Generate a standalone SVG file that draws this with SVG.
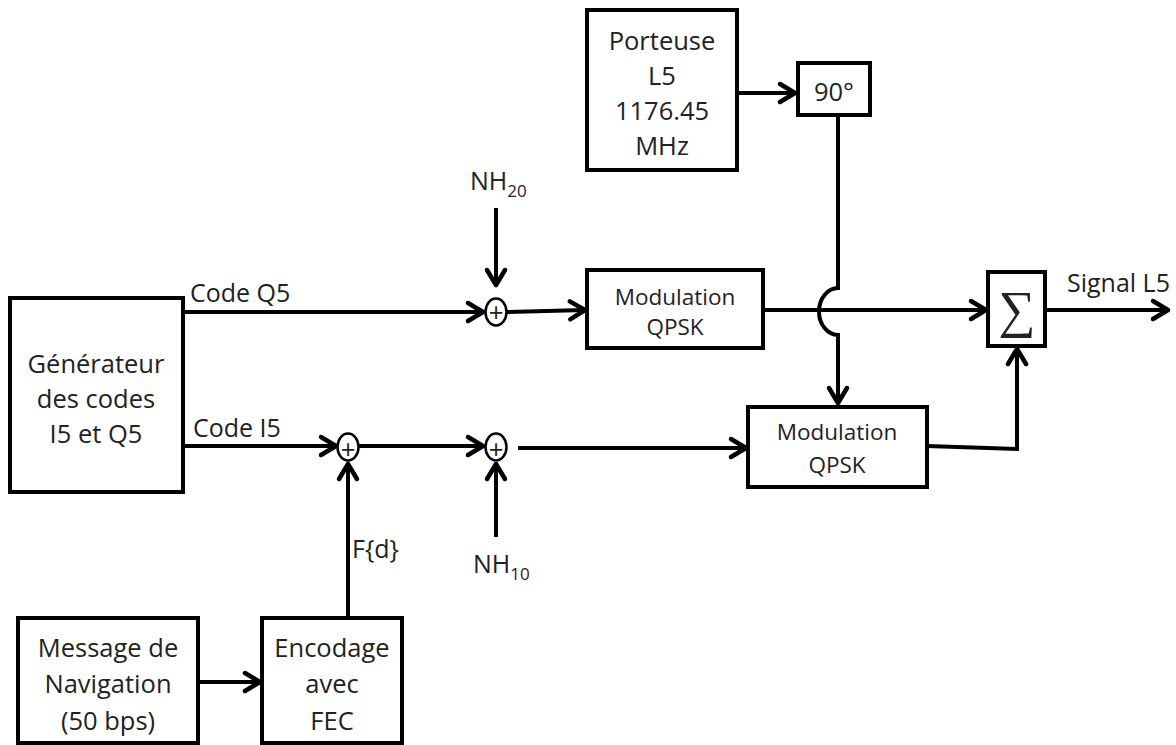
<svg xmlns="http://www.w3.org/2000/svg" width="1176" height="745" viewBox="0 0 1176 745">
<style>
.box{fill:#fff;stroke:#000;stroke-width:4}
.mbox{fill:#fff;stroke:#000;stroke-width:4}
.t{font-family:"Open Sans","Liberation Sans",sans-serif;font-size:25.5px;fill:#222;text-anchor:middle}
.tm{font-family:"Open Sans","Liberation Sans",sans-serif;font-size:22.5px;fill:#222;text-anchor:middle}
.lbl{font-family:"Open Sans","Liberation Sans",sans-serif;font-size:25px;fill:#222}
.c{fill:none;stroke:#000;stroke-width:4}
.sum{fill:#fff;stroke:#000;stroke-width:2.5}
.plus{font-family:"Liberation Sans",sans-serif;font-size:25px;fill:#222;text-anchor:middle}
</style>
<defs>
<marker id="ar" markerUnits="userSpaceOnUse" markerWidth="24" markerHeight="26" viewBox="-20 -13 24 26" refX="0" refY="0" orient="auto">
<path d="M -15 -9 L 0 0 L -15 9" fill="none" stroke="#000" stroke-width="4.5" stroke-linecap="round" stroke-linejoin="round"/>
</marker>
</defs>

<g id="connectors">
<path class="c" d="M 737 93 H 795" marker-end="url(#ar)"/>
<path class="c" d="M 838 115 V 288 A 19 23.5 0 0 0 838 335 V 403" marker-end="url(#ar)"/>
<path class="c" d="M 183 312 H 483" marker-end="url(#ar)"/>
<path class="c" d="M 507 312 L 585 310" marker-end="url(#ar)"/>
<path class="c" d="M 496 208 V 285" marker-end="url(#ar)"/>
<path class="c" d="M 763 310 H 986" marker-end="url(#ar)"/>
<path class="c" d="M 1045 310 H 1168" marker-end="url(#ar)"/>
<path class="c" d="M 927 446 L 1017 449 V 349" marker-end="url(#ar)"/>
<path class="c" d="M 183 446 H 336" marker-end="url(#ar)"/>
<path class="c" d="M 359 446 H 483" marker-end="url(#ar)"/>
<path class="c" d="M 518 448 H 746" marker-end="url(#ar)"/>
<path class="c" d="M 348 618 V 464" marker-end="url(#ar)"/>
<path class="c" d="M 496 537 V 464" marker-end="url(#ar)"/>
<path class="c" d="M 198 682 H 260" marker-end="url(#ar)"/>
<text class="lbl" x="190" y="302">Code Q5</text>
<text class="lbl" x="193" y="437">Code I5</text>
<text class="lbl" x="352" y="558">F{d}</text>
<text class="lbl" x="1067" y="292">Signal L5</text>
</g>

<g id="porteuse">
<rect class="box" x="587" y="10" width="150" height="160"/>
<text class="t" x="662" y="50">Porteuse</text>
<text class="t" x="662" y="85">L5</text>
<text class="t" x="662" y="120">1176.45</text>
<text class="t" x="662" y="155">MHz</text>
</g>

<g id="dephase">
<rect class="mbox" x="798" y="63" width="72" height="52"/>
<text class="t" x="834" y="101">90°</text>
</g>

<g id="generateur">
<rect class="box" x="10" y="298" width="173" height="194"/>
<text class="t" x="96" y="373">Générateur</text>
<text class="t" x="96" y="408">des codes</text>
<text class="t" x="96" y="443">I5 et Q5</text>
</g>

<g id="sum-q">
<ellipse class="sum" cx="496" cy="312" rx="10.5" ry="13.5"/>
<text class="plus" x="496" y="320.5">+</text>
</g>

<g id="nh20">
<text class="lbl" x="470" y="190" font-size="24">NH<tspan font-size="17" dy="7">20</tspan></text>
</g>

<g id="mod-q">
<rect class="mbox" x="587" y="270" width="176" height="78"/>
<text class="tm" x="675" y="305">Modulation</text>
<text class="tm" x="675" y="335">QPSK</text>
</g>

<g id="sigma">
<rect class="box" x="988" y="272" width="57" height="74"/>
<text x="1017" y="327" font-family="Liberation Serif,serif" font-size="52" text-anchor="middle" fill="#222">∑</text>
</g>

<g id="sum-i1">
<ellipse class="sum" cx="348" cy="447" rx="10.5" ry="13.5"/>
<text class="plus" x="348" y="458">+</text>
</g>

<g id="sum-i2">
<ellipse class="sum" cx="496" cy="447" rx="10.5" ry="13.5"/>
<text class="plus" x="496" y="458">+</text>
</g>

<g id="nh10">
<text class="lbl" x="473" y="573" font-size="24">NH<tspan font-size="17" dy="7">10</tspan></text>
</g>

<g id="mod-i">
<rect class="mbox" x="748" y="407" width="179" height="80"/>
<text class="tm" x="837" y="440">Modulation</text>
<text class="tm" x="837" y="473">QPSK</text>
</g>

<g id="message">
<rect class="box" x="18" y="618" width="180" height="125"/>
<text class="t" x="108" y="657">Message de</text>
<text class="t" x="108" y="693">Navigation</text>
<text class="t" x="108" y="730">(50 bps)</text>
</g>

<g id="encodage">
<rect class="box" x="262" y="618" width="140" height="125"/>
<text class="t" x="332" y="657">Encodage</text>
<text class="t" x="332" y="693">avec</text>
<text class="t" x="332" y="730">FEC</text>
</g>
</svg>
